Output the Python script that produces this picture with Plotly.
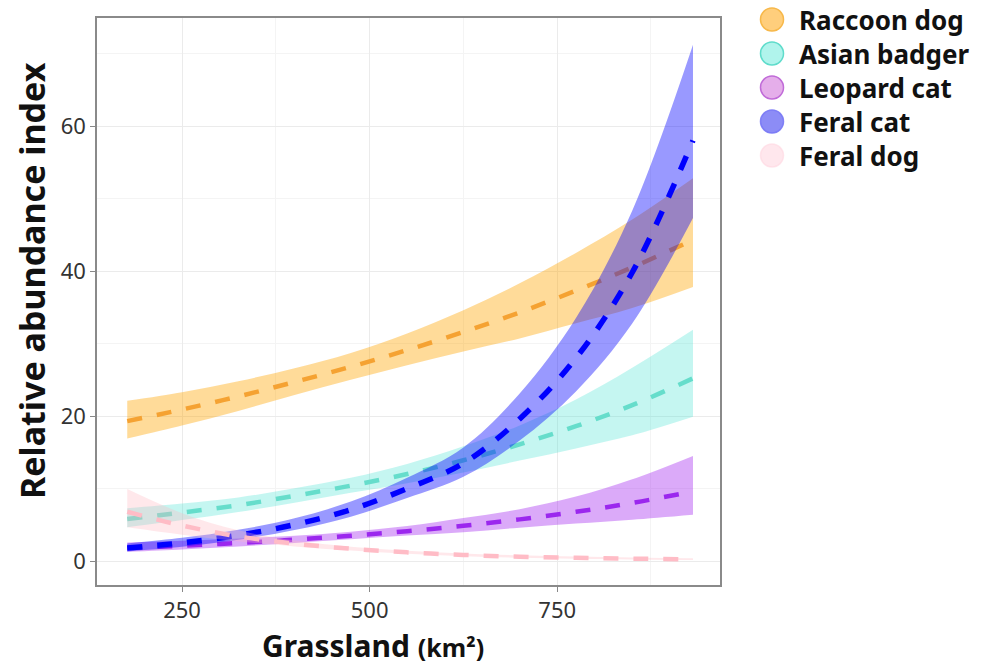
import plotly.graph_objects as go

# ---------------- data ----------------
grass = [177, 250, 325, 400, 475, 550, 625, 700, 775, 850, 931]

species = ["Raccoon dog", "Asian badger", "Leopard cat", "Feral cat", "Feral dog"]

raccoon_mean = [19.3, 20.9, 22.7, 24.7, 26.8, 29.1, 31.6, 34.3, 37.3, 40.5, 44.3]
raccoon_lo   = [16.9, 18.7, 20.7, 22.9, 25.0, 27.0, 28.9, 30.7, 32.8, 34.9, 37.8]
raccoon_hi   = [22.1, 23.3, 24.8, 26.6, 28.7, 31.4, 34.6, 38.3, 42.5, 47.1, 52.8]

badger_mean = [5.8, 6.7, 7.7, 9.0, 10.4, 12.0, 13.9, 16.1, 18.6, 21.5, 25.2]
badger_lo   = [4.65, 5.65, 6.76, 8.06, 9.41, 10.75, 12.21, 13.86, 15.54, 17.34, 19.9]
badger_hi   = [7.3, 7.94, 8.77, 10.05, 11.49, 13.4, 15.83, 18.71, 22.27, 26.66, 31.9]

leopard_mean = [1.8, 2.12, 2.5, 2.95, 3.49, 4.12, 4.87, 5.75, 6.79, 8.02, 9.6]
leopard_lo   = [1.27, 1.6, 2.01, 2.49, 3.0, 3.51, 3.99, 4.61, 5.18, 5.71, 6.4]
leopard_hi   = [2.55, 2.81, 3.12, 3.5, 4.05, 4.84, 5.95, 7.16, 8.89, 11.27, 14.5]

feralcat_mean = [1.8, 2.52, 3.56, 5.02, 7.09, 10.0, 13.5, 19.6, 28.0, 39.8, 58.0]
feralcat_lo   = [1.33, 1.98, 2.94, 4.28, 6.13, 8.69, 11.62, 16.62, 23.39, 32.77, 47.3]
feralcat_hi   = [2.43, 3.2, 4.31, 5.89, 8.2, 11.5, 15.68, 23.12, 33.52, 48.33, 71.2]

feraldog_mean = [6.8, 4.9, 3.4, 2.4, 1.7, 1.2, 0.85, 0.6, 0.45, 0.33, 0.25]
feraldog_lo   = [4.65, 3.63, 2.73, 2.02, 1.45, 1.0, 0.68, 0.46, 0.33, 0.23, 0.16]
feraldog_hi   = [9.94, 6.61, 4.24, 2.84, 1.99, 1.44, 1.06, 0.79, 0.62, 0.48, 0.38]

x_ticks = [250, 500, 750]
y_ticks = [0, 20, 40, 60]

# ---------------- styles ----------------
means = [raccoon_mean, badger_mean, leopard_mean, feralcat_mean, feraldog_mean]
lows = [raccoon_lo, badger_lo, leopard_lo, feralcat_lo, feraldog_lo]
highs = [raccoon_hi, badger_hi, leopard_hi, feralcat_hi, feraldog_hi]

line_colors = ["#F5A232", "#66DDCB", "#9B27EE", "#0000FF", "#FFBCC6"]
band_colors = ["rgba(255,165,0,0.40)", "rgba(64,224,208,0.30)", "rgba(160,32,240,0.38)",
               "rgba(0,0,255,0.40)", "rgba(255,182,193,0.32)"]
line_widths = [4.5, 4.5, 4.5, 5.5, 4.5]
legend_fill = ["rgba(255,190,80,0.75)", "rgba(150,240,230,0.75)", "rgba(225,160,230,0.85)",
               "rgba(120,120,245,0.85)", "rgba(255,215,225,0.6)"]
legend_line = ["#F7B84A", "#5FDCCB", "#C06BD8", "rgba(120,120,245,0.9)", "rgba(255,215,225,0.6)"]

fig = go.Figure()

for name, m, lo, hi, lc, bc, lw in zip(species, means, lows, highs, line_colors, band_colors, line_widths):
    fig.add_trace(go.Scatter(x=grass, y=lo, mode="lines", line=dict(width=0, shape="spline"),
                             showlegend=False, hoverinfo="skip"))
    fig.add_trace(go.Scatter(x=grass, y=hi, mode="lines", line=dict(width=0, shape="spline"),
                             fill="tonexty", fillcolor=bc, showlegend=False, hoverinfo="skip"))
    fig.add_trace(go.Scatter(x=grass, y=m, mode="lines", name=name,
                             line=dict(color=lc, width=lw, dash="15px,15px", shape="spline"),
                             showlegend=False))

# ---------------- layout ----------------
L, R, T, B = 97, 261, 18, 83
W, H = 981, 668
pw, ph = W - L - R, H - T - B

def px_x(p):
    return (p - L) / pw

def px_y(p):
    return (H - B - p) / ph

shapes = []
annotations = []
for i, name in enumerate(species):
    cy = 19.5 + 34.0 * i
    shapes.append(dict(type="circle", xref="paper", yref="paper", xsizemode="pixel", ysizemode="pixel",
                       xanchor=px_x(772), yanchor=px_y(cy), x0=-11.5, x1=11.5, y0=-11.5, y1=11.5,
                       fillcolor=legend_fill[i], line=dict(color=legend_line[i], width=1.5)))
    annotations.append(dict(text="<b>%s</b>" % name, xref="paper", yref="paper",
                            x=px_x(797), y=px_y(cy + 1), xanchor="left", yanchor="middle",
                            showarrow=False, font=dict(family="Noto Sans", size=26, color="#111111")))

annotations.append(dict(text="<b>Relative abundance index</b>", xref="paper", yref="paper",
                        x=px_x(32), y=px_y(281), textangle=-90, showarrow=False,
                        xanchor="center", yanchor="middle",
                        font=dict(family="Noto Sans", size=34, color="#111111")))
annotations.append(dict(text="<b>Grassland</b> <b><span style='font-size:25px'>(km²)</span></b>",
                        xref="paper", yref="paper", x=px_x(373), y=px_y(668),
                        showarrow=False, xanchor="center", yanchor="bottom",
                        font=dict(family="Noto Sans", size=30, color="#111111")))

fig.update_layout(
    width=W, height=H,
    margin=dict(l=L, r=R, t=T, b=B),
    paper_bgcolor="white", plot_bgcolor="white",
    showlegend=False,
    shapes=shapes, annotations=annotations,
    xaxis=dict(range=[136.7, 967], tickvals=x_ticks, ticks="outside", ticklen=5, tickcolor="#888888",
               showgrid=True, gridcolor="#EBEBEB", gridwidth=1, zeroline=False,
               showline=True, linecolor="#8A8A8A", linewidth=1.5, mirror=True,
               tickfont=dict(family="Noto Sans", size=22, color="#333333"),
               minor=dict(tickvals=[375, 625, 875], showgrid=True, gridcolor="#F4F4F4", ticklen=0)),
    yaxis=dict(range=[-3.3, 74.9], tickvals=y_ticks, ticks="outside", ticklen=5, tickcolor="#888888",
               showgrid=True, gridcolor="#EBEBEB", gridwidth=1, zeroline=False,
               showline=True, linecolor="#8A8A8A", linewidth=1.5, mirror=True,
               tickfont=dict(family="Noto Sans", size=22, color="#333333"),
               minor=dict(tickvals=[10, 30, 50, 70], showgrid=True, gridcolor="#F4F4F4", ticklen=0)),
)

fig.write_html("out.html")
